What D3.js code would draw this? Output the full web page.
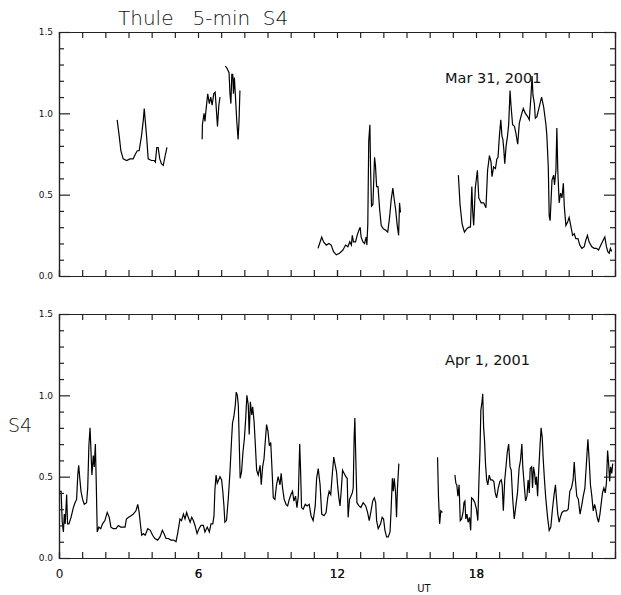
<!DOCTYPE html>
<html>
<head>
<meta charset="utf-8">
<script src="https://cdn.jsdelivr.net/npm/d3@7"></script>
<style>
  body { margin: 0; background: #fff; }
  svg text { font-family: "DejaVu Sans", sans-serif; fill: #111; }
</style>
</head>
<body>
<div id="chart"></div>
<script>
// Thule 5-min S4, two days, gaps split into separate segments [hour UT, S4]
const mar31Segments = [
  [[2.51,0.96],[2.60,0.86],[2.67,0.77],[2.77,0.72],[2.92,0.71],[3.06,0.72],[3.20,0.72],[3.30,0.75],[3.38,0.77],
   [3.46,0.77],[3.56,0.86],[3.64,0.96],[3.68,1.03],[3.72,0.96],[3.78,0.86],[3.85,0.72],[3.99,0.71],[4.11,0.71],
   [4.16,0.70],[4.22,0.79],[4.28,0.79],[4.35,0.72],[4.42,0.69],[4.50,0.68],[4.57,0.73],[4.66,0.79]],
  [[6.18,0.84],[6.19,0.93],[6.26,1.00],[6.30,0.95],[6.36,1.04],[6.42,1.12],[6.49,1.06],[6.55,1.10],[6.61,1.05],
   [6.68,1.12],[6.74,1.13],[6.78,1.05],[6.84,0.92],[6.90,1.05],[6.95,1.10]],
  [[7.18,1.29],[7.24,1.28],[7.34,1.25],[7.38,1.12],[7.42,1.06],[7.46,1.24],[7.50,1.24],[7.53,1.12],[7.57,1.22],
   [7.61,1.12],[7.67,0.96],[7.73,0.84],[7.77,0.95],[7.81,1.14]],
  [[11.18,0.17],[11.25,0.20],[11.34,0.24],[11.42,0.21],[11.54,0.19],[11.65,0.20],[11.75,0.19],[11.85,0.15],
   [11.97,0.13],[12.11,0.14],[12.26,0.16],[12.37,0.19],[12.47,0.18],[12.55,0.21],[12.62,0.19],[12.66,0.25],
   [12.71,0.21],[12.80,0.21],[12.87,0.25],[12.94,0.28],[13.00,0.30],[13.04,0.24],[13.12,0.21],[13.19,0.20],
   [13.26,0.24],[13.29,0.19],[13.33,0.32],[13.37,0.83],[13.42,0.93],[13.45,0.65],[13.49,0.43],[13.55,0.44],
   [13.62,0.73],[13.66,0.68],[13.71,0.55],[13.77,0.55],[13.84,0.41],[13.91,0.31],[14.00,0.29],[14.12,0.28],
   [14.19,0.27],[14.27,0.36],[14.34,0.47],[14.41,0.54],[14.47,0.47],[14.53,0.41],[14.60,0.31],[14.66,0.25],
   [14.70,0.45],[14.74,0.39]],
  [[17.24,0.62],[17.31,0.44],[17.40,0.32],[17.50,0.27],[17.60,0.29],[17.69,0.30],[17.76,0.30],[17.82,0.55],
   [17.86,0.39],[17.90,0.31],[17.97,0.54],[18.06,0.65],[18.12,0.48],[18.22,0.45],[18.33,0.45],[18.43,0.42],
   [18.50,0.65],[18.58,0.74],[18.65,0.70],[18.69,0.61],[18.76,0.67],[18.84,0.66],[18.90,0.72],[18.95,0.73],
   [19.01,0.86],[19.07,0.96],[19.12,0.86],[19.16,0.84],[19.20,0.78],[19.24,0.69],[19.30,0.80],[19.36,0.86],
   [19.41,0.93],[19.47,1.14],[19.51,1.05],[19.58,0.93],[19.66,0.92],[19.72,0.88],[19.80,0.81],[19.87,0.94],
   [19.94,0.98],[20.04,1.03],[20.13,1.00],[20.23,0.98],[20.30,0.96],[20.37,1.10],[20.42,1.23],[20.46,1.11],
   [20.52,1.06],[20.56,0.97],[20.63,0.98],[20.73,1.04],[20.83,1.10],[20.92,1.04],[21.02,0.93],[21.06,0.86],
   [21.12,0.67],[21.16,0.37],[21.20,0.34],[21.28,0.59],[21.35,0.62],[21.39,0.56],[21.45,0.65],[21.49,0.91],
   [21.53,0.65],[21.59,0.45],[21.65,0.51],[21.71,0.48],[21.77,0.57],[21.81,0.43],[21.88,0.31],[21.95,0.33],
   [22.02,0.36],[22.09,0.31],[22.17,0.25],[22.24,0.26],[22.31,0.23],[22.40,0.23],[22.48,0.19],[22.57,0.17],
   [22.67,0.18],[22.74,0.22],[22.81,0.25],[22.88,0.21],[23.00,0.18],[23.10,0.17],[23.20,0.17],[23.29,0.16],
   [23.39,0.19],[23.49,0.22],[23.56,0.24],[23.63,0.18],[23.69,0.15],[23.75,0.14],[23.80,0.17],[23.86,0.15]]
];

const apr1Segments = [
  [[0.04,0.41],[0.09,0.41],[0.14,0.22],[0.19,0.16],[0.23,0.27],[0.27,0.21],[0.33,0.39],[0.37,0.21],[0.43,0.21],
   [0.52,0.25],[0.62,0.31],[0.69,0.34],[0.76,0.36],[0.81,0.51],[0.85,0.57],[0.89,0.50],[0.95,0.41],[1.02,0.36],
   [1.09,0.33],[1.19,0.34],[1.24,0.43],[1.29,0.69],[1.34,0.80],[1.38,0.66],[1.42,0.51],[1.48,0.63],[1.52,0.56],
   [1.57,0.70],[1.61,0.45],[1.65,0.16],[1.72,0.19],[1.80,0.18],[1.88,0.21],[1.98,0.23],[2.08,0.28],[2.17,0.25],
   [2.24,0.19],[2.34,0.18],[2.46,0.18],[2.56,0.20],[2.66,0.19],[2.77,0.19],[2.85,0.19],[2.91,0.24],[3.00,0.25],
   [3.11,0.26],[3.21,0.27],[3.32,0.29],[3.40,0.33],[3.46,0.28],[3.52,0.20],[3.57,0.14],[3.64,0.15],[3.72,0.14],
   [3.83,0.18],[3.94,0.17],[4.04,0.14],[4.14,0.12],[4.26,0.11],[4.36,0.13],[4.46,0.17],[4.53,0.15],[4.62,0.12],
   [4.72,0.12],[4.83,0.11],[4.95,0.11],[5.05,0.10],[5.12,0.15],[5.18,0.20],[5.22,0.24],[5.29,0.23],[5.37,0.27],
   [5.44,0.24],[5.51,0.28],[5.58,0.25],[5.66,0.22],[5.73,0.25],[5.80,0.23],[5.87,0.20],[5.96,0.15],[6.04,0.18],
   [6.13,0.20],[6.23,0.20],[6.30,0.16],[6.40,0.19],[6.49,0.16],[6.56,0.21],[6.64,0.21],[6.69,0.26],[6.73,0.42],
   [6.78,0.51],[6.83,0.46],[6.89,0.48],[6.95,0.50],[7.02,0.48],[7.07,0.41],[7.12,0.32],[7.16,0.22],[7.23,0.23],
   [7.31,0.37],[7.38,0.53],[7.45,0.73],[7.49,0.83],[7.55,0.87],[7.61,0.94],[7.65,1.02],[7.70,1.00],[7.74,0.94],
   [7.78,0.71],[7.82,0.49],[7.88,0.53],[7.94,0.65],[8.00,0.73],[8.06,0.86],[8.11,1.00],[8.17,0.94],[8.21,0.76],
   [8.26,0.96],[8.32,0.88],[8.36,0.93],[8.42,0.84],[8.47,0.71],[8.53,0.54],[8.60,0.51],[8.68,0.57],[8.73,0.45],
   [8.79,0.56],[8.85,0.61],[8.90,0.71],[8.96,0.82],[9.02,0.78],[9.08,0.69],[9.14,0.71],[9.19,0.56],[9.25,0.37],
   [9.32,0.36],[9.39,0.45],[9.46,0.50],[9.54,0.45],[9.59,0.52],[9.65,0.43],[9.72,0.36],[9.80,0.33],[9.87,0.32],
   [9.94,0.36],[10.01,0.39],[10.08,0.41],[10.14,0.35],[10.21,0.38],[10.27,0.31],[10.33,0.38],[10.39,0.70],
   [10.43,0.53],[10.47,0.31],[10.54,0.30],[10.63,0.33],[10.71,0.32],[10.80,0.33],[10.88,0.26],[10.97,0.23],
   [11.06,0.32],[11.12,0.49],[11.19,0.55],[11.27,0.45],[11.34,0.27],[11.44,0.26],[11.53,0.28],[11.60,0.37],
   [11.66,0.41],[11.73,0.39],[11.80,0.52],[11.86,0.62],[11.91,0.58],[11.98,0.53],[12.03,0.44],[12.08,0.37],
   [12.13,0.32],[12.19,0.43],[12.24,0.54],[12.31,0.52],[12.38,0.50],[12.44,0.49],[12.48,0.25],[12.54,0.36],
   [12.60,0.38],[12.66,0.40],[12.70,0.43],[12.74,0.74],[12.77,0.86],[12.81,0.62],[12.86,0.34],[12.95,0.32],
   [13.03,0.31],[13.13,0.34],[13.24,0.32],[13.32,0.28],[13.39,0.23],[13.47,0.29],[13.54,0.35],[13.61,0.37],
   [13.67,0.34],[13.71,0.23],[13.78,0.18],[13.88,0.21],[13.95,0.25],[14.01,0.24],[14.07,0.17],[14.14,0.13],
   [14.21,0.13],[14.29,0.16],[14.33,0.28],[14.39,0.49],[14.43,0.41],[14.47,0.49],[14.53,0.40],[14.57,0.25],
   [14.61,0.43],[14.67,0.58]],
  [[16.34,0.62],[16.38,0.38],[16.43,0.21],[16.48,0.29],[16.55,0.28]],
  [[17.09,0.51],[17.13,0.46],[17.17,0.45],[17.22,0.38],[17.27,0.45],[17.32,0.23],[17.38,0.24],[17.44,0.28],
   [17.48,0.34],[17.52,0.35],[17.56,0.24],[17.61,0.27],[17.66,0.22],[17.72,0.25],[17.77,0.17],[17.81,0.37],
   [17.88,0.36],[17.95,0.34],[18.02,0.30],[18.08,0.23],[18.13,0.49],[18.17,0.65],[18.21,0.91],[18.26,0.96],
   [18.29,1.01],[18.33,0.80],[18.37,0.72],[18.41,0.58],[18.46,0.48],[18.51,0.45],[18.57,0.51],[18.63,0.48],
   [18.70,0.48],[18.77,0.47],[18.83,0.40],[18.89,0.37],[18.96,0.43],[19.03,0.47],[19.09,0.48],[19.13,0.45],
   [19.18,0.29],[19.24,0.48],[19.30,0.57],[19.35,0.65],[19.41,0.70],[19.47,0.56],[19.52,0.54],[19.58,0.37],
   [19.65,0.24],[19.72,0.32],[19.79,0.40],[19.86,0.55],[19.92,0.60],[19.98,0.70],[20.02,0.56],[20.08,0.45],
   [20.14,0.35],[20.20,0.38],[20.25,0.48],[20.30,0.40],[20.34,0.55],[20.40,0.56],[20.44,0.43],[20.48,0.56],
   [20.53,0.52],[20.57,0.45],[20.61,0.50],[20.66,0.38],[20.70,0.52],[20.76,0.68],[20.81,0.80],[20.86,0.74],
   [20.90,0.61],[20.96,0.47],[21.01,0.37],[21.09,0.25],[21.16,0.17],[21.23,0.19],[21.30,0.30],[21.37,0.39],
   [21.43,0.45],[21.47,0.37],[21.53,0.27],[21.59,0.22],[21.64,0.25],[21.71,0.28],[21.80,0.29],[21.90,0.29],
   [21.98,0.30],[22.05,0.41],[22.12,0.43],[22.19,0.48],[22.24,0.59],[22.29,0.48],[22.35,0.38],[22.42,0.36],
   [22.49,0.27],[22.56,0.32],[22.63,0.38],[22.70,0.43],[22.77,0.59],[22.83,0.73],[22.89,0.59],[22.94,0.45],
   [23.00,0.38],[23.06,0.29],[23.12,0.33],[23.17,0.30],[23.23,0.25],[23.29,0.22],[23.35,0.27],[23.40,0.33],
   [23.46,0.40],[23.52,0.43],[23.58,0.40],[23.63,0.46],[23.68,0.66],[23.72,0.59],[23.77,0.47],[23.81,0.56],
   [23.86,0.52],[23.90,0.58]]
];

const xDomain = [0, 24];
const yDomain = [0, 1.5];
const xLabelTicks = [0, 6, 12, 18];
const xMinorTicks = d3.range(1, 24);
const yMajorTicks = [0, 0.5, 1.0, 1.5];
const yMinorTicks = [0.1, 0.2, 0.3, 0.4, 0.6, 0.7, 0.8, 0.9, 1.1, 1.2, 1.3, 1.4];

const W = 621, H = 595;
const left = 59, right = 615;

const svg = d3.select("#chart").append("svg")
  .attr("width", W)
  .attr("height", H);

const x = d3.scaleLinear().domain(xDomain).range([left, right]);

// Draw one panel: frame, ticks on all four sides, and the S4 trace
function panel(top, bottom, segments, dateText, showXLabels) {
  const y = d3.scaleLinear().domain(yDomain).range([bottom, top]);
  const g = svg.append("g");

  const line = d3.line()
    .x(d => x(d[0]))
    .y(d => y(d[1]));

  segments.forEach(seg => {
    g.append("path")
      .attr("d", line(seg))
      .attr("fill", "none")
      .attr("stroke", "#000")
      .attr("stroke-width", 1.2);
  });

  // x axes: bottom and top, ticks inward
  const xb = g.append("g")
    .attr("transform", "translate(0," + bottom + ")")
    .call(d3.axisBottom(x).tickValues(xLabelTicks.concat(xMinorTicks)).tickSize(-6).tickPadding(11)
      .tickFormat(d => (showXLabels && xLabelTicks.includes(d)) ? d : ""));
  g.append("g")
    .attr("transform", "translate(0," + top + ")")
    .call(d3.axisTop(x).tickValues(xMinorTicks).tickSize(-6).tickFormat(""));

  // y axes: left with labels, right without
  g.append("g")
    .attr("transform", "translate(" + left + ",0)")
    .call(d3.axisLeft(y).tickValues(yMajorTicks).tickSize(-11).tickPadding(6).tickFormat(d3.format(".1f")));
  g.append("g")
    .attr("transform", "translate(" + left + ",0)")
    .call(d3.axisLeft(y).tickValues(yMinorTicks).tickSize(-5).tickFormat(""));
  g.append("g")
    .attr("transform", "translate(" + right + ",0)")
    .call(d3.axisRight(y).tickValues(yMajorTicks).tickSize(-11).tickFormat(""));
  g.append("g")
    .attr("transform", "translate(" + right + ",0)")
    .call(d3.axisRight(y).tickValues(yMinorTicks).tickSize(-5).tickFormat(""));

  g.selectAll(".domain").attr("stroke", "#222").attr("stroke-width", 1.2);
  g.selectAll(".tick line").attr("stroke", "#222").attr("stroke-width", 1.2);
  g.selectAll(".tick text")
    .style("font-family", "'DejaVu Sans', sans-serif")
    .attr("fill", "#111");
  g.selectAll("g").filter(function() { return this.parentNode === g.node(); })
    .attr("font-size", 9);
  xb.attr("font-size", 12);

  g.append("text")
    .attr("x", 445)
    .attr("y", y(1.186))
    .attr("font-size", 14.5)
    .text(dateText);

  return y;
}

panel(32, 276, mar31Segments, "Mar 31, 2001", false);
panel(314, 558, apr1Segments, "Apr 1, 2001", true);

svg.append("text")
  .attr("x", 118)
  .attr("y", 25)
  .attr("font-size", 20)
  .style("font-weight", 300)
  .style("white-space", "pre")
  .text("Thule   5-min  S4");

svg.append("text")
  .attr("x", 8)
  .attr("y", 432)
  .attr("font-size", 19)
  .style("font-weight", 300)
  .text("S4");

svg.append("text")
  .attr("x", 424)
  .attr("y", 592)
  .attr("text-anchor", "middle")
  .attr("font-size", 10)
  .text("UT");
</script>
</body>
</html>
